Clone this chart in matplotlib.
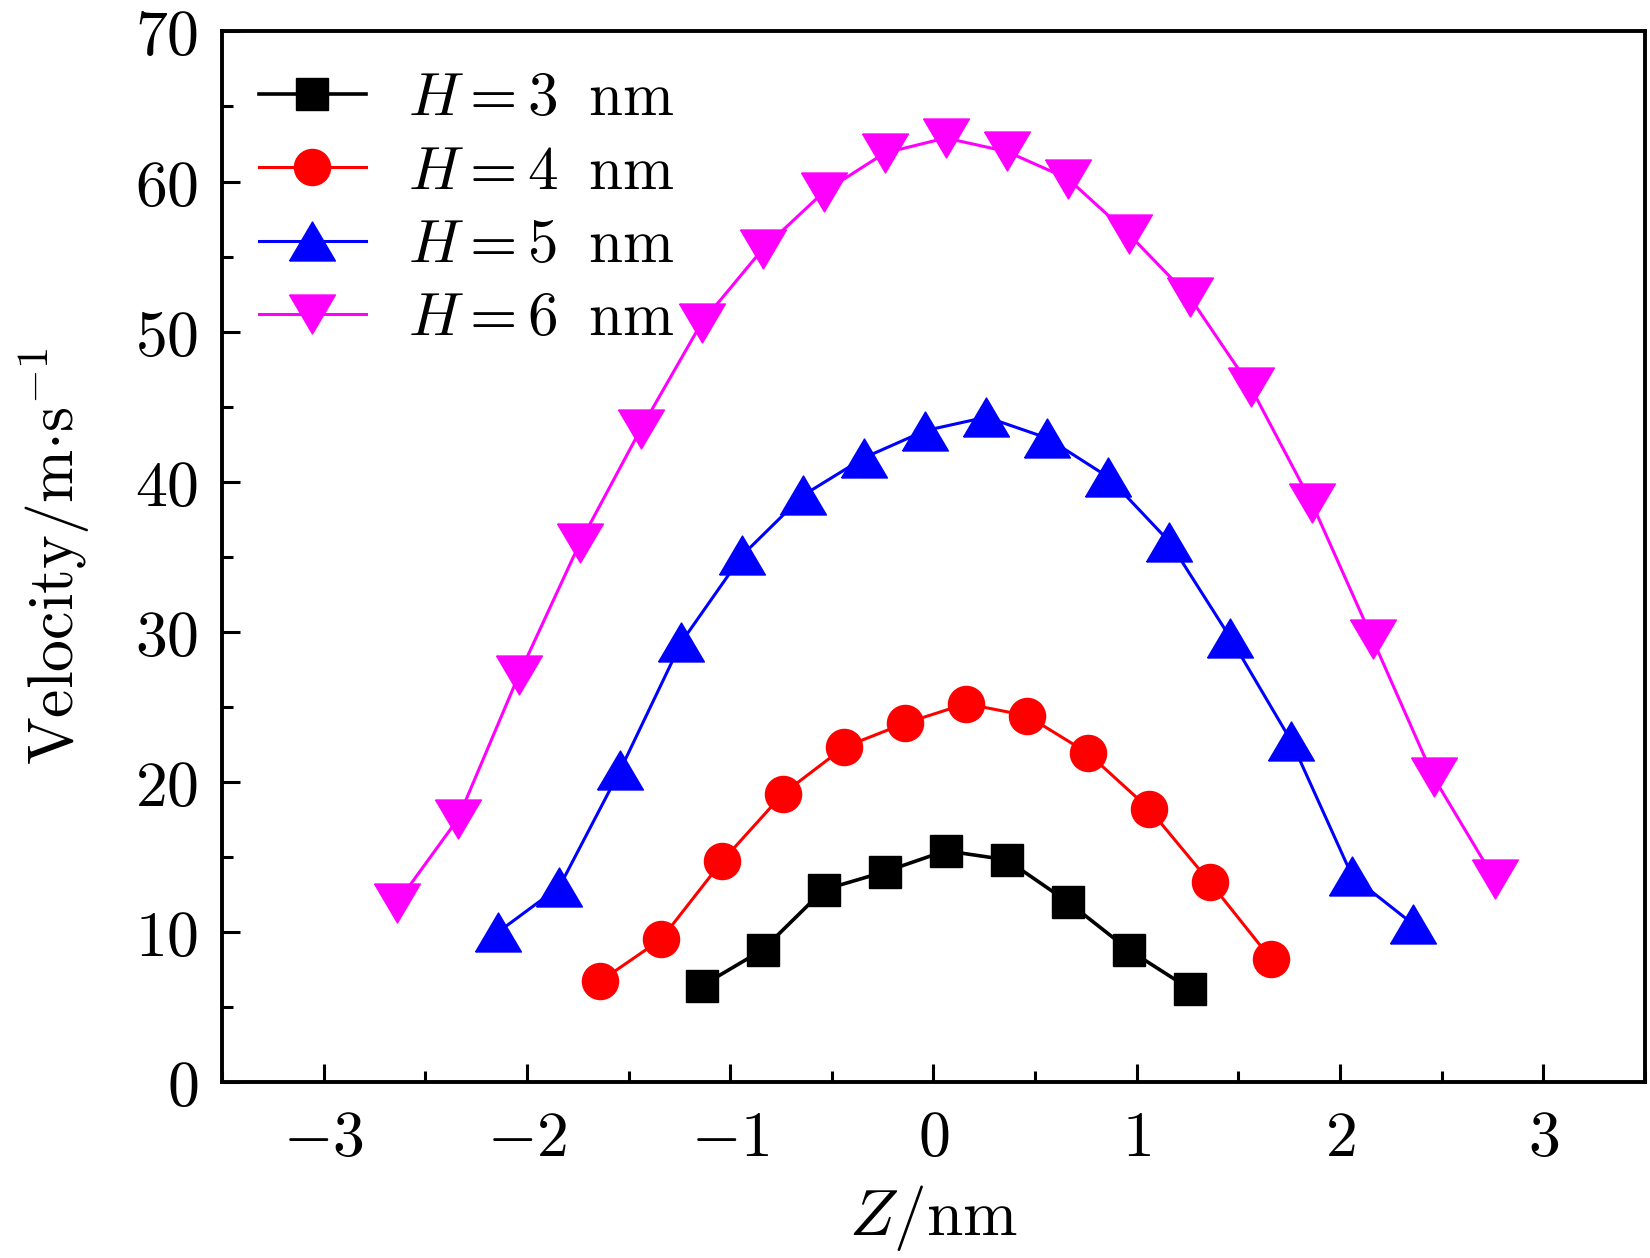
import matplotlib
matplotlib.use('Agg')
import matplotlib.pyplot as plt
from matplotlib import ticker

plt.rcParams['mathtext.fontset'] = 'cm'
plt.rcParams['font.family'] = ['DejaVu Serif']

# data
z_h3 = [-1.14, -0.84, -0.54, -0.24, 0.06, 0.36, 0.66, 0.96, 1.26]
v_h3 = [6.4, 8.8, 12.8, 14.0, 15.4, 14.8, 12.0, 8.8, 6.2]

z_h4 = [-1.64, -1.34, -1.04, -0.74, -0.44, -0.14, 0.16, 0.46, 0.76, 1.06, 1.36, 1.66]
v_h4 = [6.7, 9.5, 14.7, 19.2, 22.3, 23.9, 25.2, 24.4, 21.9, 18.2, 13.3, 8.2]

z_h5 = [-2.14, -1.84, -1.54, -1.24, -0.94, -0.64, -0.34, -0.04, 0.26, 0.56,
        0.86, 1.16, 1.46, 1.76, 2.06, 2.36]
v_h5 = [10.0, 13.0, 20.8, 29.3, 35.1, 39.1, 41.6, 43.4, 44.3, 42.9,
        40.3, 36.0, 29.6, 22.7, 13.7, 10.5]

z_h6 = [-2.64, -2.34, -2.04, -1.74, -1.44, -1.14, -0.84, -0.54, -0.24, 0.06,
        0.36, 0.66, 0.96, 1.26, 1.56, 1.86, 2.16, 2.46, 2.76]
v_h6 = [11.9, 17.5, 27.1, 35.9, 43.5, 50.6, 55.5, 59.3, 61.9, 62.9,
        62.0, 60.2, 56.5, 52.3, 46.3, 38.6, 29.5, 20.3, 13.5]

labels = [r'$H = 3\;\;\mathrm{nm}$', r'$H = 4\;\;\mathrm{nm}$',
          r'$H = 5\;\;\mathrm{nm}$', r'$H = 6\;\;\mathrm{nm}$']

# flattened triangles (wider than tall, like the original)
tri_up = [(-1, -0.85), (1, -0.85), (0, 0.85), (-1, -0.85)]
tri_down = [(-1, 0.85), (1, 0.85), (0, -0.85), (-1, 0.85)]

fig = plt.figure(figsize=(16.5, 12.58), dpi=100)
ax = fig.add_axes([0.1345, 0.140, 0.8625, 0.835])

ax.plot(z_h3, v_h3, color='black', lw=2.6, marker='s', ms=23, label=labels[0])
ax.plot(z_h4, v_h4, color='#ff0000', lw=2.2, marker='o', ms=26, label=labels[1])
ax.plot(z_h5, v_h5, color='#0000ff', lw=2.2, marker=tri_up, ms=33, label=labels[2])
ax.plot(z_h6, v_h6, color='#ff00ff', lw=2.2, marker=tri_down, ms=33, label=labels[3])

ax.set_xlim(-3.5, 3.5)
ax.set_ylim(0, 70)
ax.xaxis.set_major_locator(ticker.MultipleLocator(1))
ax.xaxis.set_minor_locator(ticker.MultipleLocator(0.5))
ax.yaxis.set_major_locator(ticker.MultipleLocator(10))
ax.yaxis.set_minor_locator(ticker.MultipleLocator(5))
fmt = ticker.FuncFormatter(lambda v, p: r'$\mathrm{%g}$' % v)
ax.xaxis.set_major_formatter(fmt)
ax.yaxis.set_major_formatter(fmt)

for s in ax.spines.values():
    s.set_linewidth(2.8)
ax.tick_params(which='both', direction='in', top=False, right=False, width=2.2)
ax.tick_params(which='major', length=13, labelsize=46)
ax.tick_params(which='minor', length=8)
ax.tick_params(axis='x', which='major', pad=19)
ax.tick_params(axis='y', which='major', pad=17)

ax.set_xlabel(r'$Z\mathrm{/nm}$', fontsize=47, labelpad=10)
ax.set_ylabel(r'$\mathrm{Velocity/m{\cdot}s^{-1}}$', fontsize=46, labelpad=31)

ax.legend(loc='upper left', frameon=False, fontsize=44, handlelength=1.75,
          handletextpad=0.7, labelspacing=0.22, borderaxespad=0.3,
          borderpad=0.3)

fig.savefig('out.png', dpi=100)
